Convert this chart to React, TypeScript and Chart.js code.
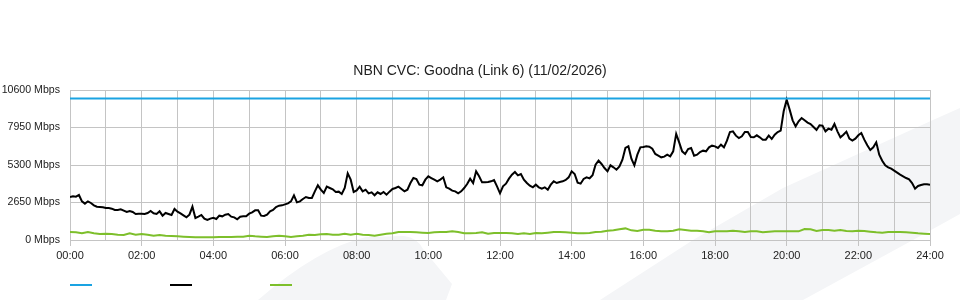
import React, { useEffect, useRef } from 'react';
import { Chart, registerables } from 'chart.js';

Chart.register(...registerables);

const TITLE = 'NBN CVC: Goodna (Link 6) (11/02/2026)';
const X_TICK_LABELS = ['00:00', '02:00', '04:00', '06:00', '08:00', '10:00', '12:00', '14:00', '16:00', '18:00', '20:00', '22:00', '24:00'];
const Y_MAX = 10600;
const Y_STEP = 2650;
const UNIT = 'Mbps';

const CAPACITY_TIMES = [0, 1440];
const CAPACITY_MBPS = [10000, 10000];

const TRAFFIC_STEP_MIN = 5;
const TRAFFIC_MBPS = [
  3039, 3086, 3062, 3180, 2733, 2568, 2733, 2615, 2450, 2356, 2332, 2309, 2261, 2261, 2214, 2120,
  2120, 2167, 2073, 1979, 2049, 1979, 1837, 1861, 1861, 1837, 1908, 2049, 1885, 1837, 2026, 1720,
  1908, 1837, 1767, 2191, 2002, 1885, 1743, 1602, 1790, 2356, 1555, 1649, 1767, 1508, 1413, 1508,
  1570, 1484, 1720, 1673, 1790, 1837, 1649, 1602, 1461, 1649, 1673, 1673, 1861, 1955, 2097, 2097,
  1720, 1696, 1790, 2026, 2120, 2332, 2426, 2450, 2521, 2591, 2733, 3157, 2662, 2733, 2897, 3039,
  2968, 2968, 3439, 3863, 3557, 3321, 3769, 3675, 3581, 3392, 3416, 3251, 3675, 4711, 4264, 3392,
  3500, 3769, 3439, 3557, 3298, 3369, 3157, 3369, 3251, 3392, 3204, 3416, 3604, 3675, 3769, 3604,
  3439, 3557, 4028, 4381, 4311, 3910, 3863, 4264, 4499, 4381, 4264, 4146, 4264, 4429, 3722, 3628,
  3486, 3439, 3298, 3439, 3675, 3957, 4334, 4028, 4853, 4499, 4075, 4075, 4099, 4146, 4240, 3793,
  3300, 3793, 3981, 4334, 4617, 4806, 4570, 4664, 4264, 4028, 3840, 3722, 3910, 3722, 3628, 3722,
  3557, 3910, 4146, 4028, 4099, 4146, 4240, 4429, 4853, 4664, 4052, 3981, 4311, 4429, 4358, 4570,
  5324, 5606, 5371, 5088, 4853, 5277, 5135, 4970, 5206, 5677, 6502, 6620, 5748, 5277, 6031, 6549,
  6572, 6620, 6596, 6454, 6078, 5960, 5842, 5889, 6031, 5913, 6266, 7500, 6900, 6266, 6078, 6431,
  6502, 5960, 6031, 6219, 6313, 6266, 6549, 6666, 6620, 6502, 6737, 6549, 7020, 7632, 7680, 7373,
  7208, 7326, 7632, 7632, 7279, 7255, 7397, 7255, 7090, 7090, 7373, 7137, 7444, 7632, 7727, 9093,
  9917, 9211, 8457, 8033, 8386, 8622, 8457, 8292, 8198, 7986, 7774, 8104, 8080, 7680, 7868, 7797,
  8198, 7680, 7255, 7444, 7656, 7161, 7020, 7161, 7397, 7562, 7090, 6690, 6360, 6549, 6900, 6031,
  5606, 5277, 5135, 5041, 4900, 4758, 4617, 4499, 4381, 4287, 4028, 3628, 3816, 3887, 3934, 3934,
  3910,
];

const UPLOAD_STEP_MIN = 10;
const UPLOAD_MBPS = [
  565, 542, 471, 565, 471, 424, 447, 424, 377, 353, 471, 377, 424, 377, 306, 353,
  306, 283, 259, 235, 212, 188, 188, 188, 200, 212, 212, 212, 235, 235, 306, 259,
  235, 212, 259, 306, 259, 212, 259, 306, 377, 353, 400, 424, 377, 377, 447, 377,
  435, 377, 353, 306, 377, 447, 471, 565, 565, 565, 542, 518, 494, 542, 565, 565,
  612, 565, 471, 471, 494, 542, 447, 494, 494, 494, 471, 424, 471, 424, 494, 471,
  518, 565, 565, 542, 518, 471, 471, 494, 565, 589, 659, 683, 760, 820, 683, 636,
  718, 730, 659, 612, 612, 659, 753, 706, 659, 659, 612, 542, 612, 612, 612, 659,
  612, 565, 612, 612, 542, 589, 612, 612, 612, 612, 612, 780, 760, 636, 706, 700,
  659, 706, 636, 612, 659, 636, 589, 542, 518, 565, 565, 565, 542, 518, 471, 447,
  424,
];

const SERIES_COLORS = ['#1aa3e2', '#000000', '#7dbf2b'];
const GRID_COLOR = '#c4c4c4';
const TEXT_COLOR = '#222222';

const watermarkPlugin = {
  id: 'watermark',
  beforeDraw(chart: any) {
    const ctx = chart.ctx;
    ctx.save();
    ctx.fillStyle = '#f4f5f7';
    ctx.beginPath();
    ctx.moveTo(258, 300);
    ctx.quadraticCurveTo(318, 248, 366, 237);
    ctx.lineTo(404, 236);
    ctx.quadraticCurveTo(418, 238, 423, 249);
    ctx.lineTo(452, 284);
    ctx.lineTo(446, 300);
    ctx.closePath();
    ctx.fill();
    ctx.beginPath();
    ctx.moveTo(600, 300);
    ctx.lineTo(693, 240);
    ctx.lineTo(783, 188);
    ctx.lineTo(933, 120);
    ctx.lineTo(960, 108);
    ctx.lineTo(960, 214);
    ctx.lineTo(913, 240);
    ctx.lineTo(803, 300);
    ctx.closePath();
    ctx.fill();
    ctx.restore();
  },
};

const lineLegendPlugin = {
  id: 'lineLegend',
  afterDraw(chart: any) {
    const ctx = chart.ctx;
    ctx.save();
    ctx.lineWidth = 2;
    chart.data.datasets.forEach((ds: any, i: number) => {
      const x0 = chart.chartArea.left + i * 100;
      ctx.strokeStyle = ds.borderColor;
      ctx.beginPath();
      ctx.moveTo(x0, 285);
      ctx.lineTo(x0 + 22, 285);
      ctx.stroke();
    });
    ctx.restore();
  },
};

export default function App() {
  const canvasRef = useRef<HTMLCanvasElement | null>(null);

  useEffect(() => {
    if (!canvasRef.current) return;
    Chart.defaults.font.family = '"Liberation Sans", Arial, Helvetica, sans-serif';
    const chart = new Chart(canvasRef.current, {
      type: 'line',
      data: {
        datasets: [
          {
            label: 'Capacity',
            data: CAPACITY_TIMES.map((t, i) => ({ x: t, y: CAPACITY_MBPS[i] })),
            borderColor: SERIES_COLORS[0],
            backgroundColor: SERIES_COLORS[0],
            borderWidth: 2,
            pointRadius: 0,
            tension: 0,
          },
          {
            label: 'Download',
            data: TRAFFIC_MBPS.map((v, i) => ({ x: i * TRAFFIC_STEP_MIN, y: v })),
            borderColor: SERIES_COLORS[1],
            backgroundColor: SERIES_COLORS[1],
            borderWidth: 2,
            pointRadius: 0,
            tension: 0,
          },
          {
            label: 'Upload',
            data: UPLOAD_MBPS.map((v, i) => ({ x: i * UPLOAD_STEP_MIN, y: v })),
            borderColor: SERIES_COLORS[2],
            backgroundColor: SERIES_COLORS[2],
            borderWidth: 2,
            pointRadius: 0,
            tension: 0,
          },
        ],
      },
      options: {
        responsive: false,
        animation: false,
        layout: { padding: 0 },
        plugins: {
          legend: { display: false },
          tooltip: { enabled: false },
          title: {
            display: true,
            text: TITLE,
            color: TEXT_COLOR,
            font: { size: 14, weight: 'normal' },
            padding: { top: 63, bottom: 10.2 },
          },
        },
        scales: {
          x: {
            type: 'linear',
            min: 0,
            max: 1440,
            afterFit: (scale: any) => {
              scale.height = 60;
            },
            ticks: {
              stepSize: 60,
              autoSkip: false,
              maxRotation: 0,
              padding: 3,
              color: TEXT_COLOR,
              font: { size: 11 },
              callback: (v: any) => (Number(v) % 120 === 0 ? X_TICK_LABELS[Number(v) / 120] : ''),
            },
            grid: {
              color: GRID_COLOR,
              lineWidth: 1,
              tickLength: 6,
              tickColor: (c: any) => (c.tick && c.tick.value % 120 === 0 ? GRID_COLOR : 'rgba(0,0,0,0)'),
            },
            border: { color: GRID_COLOR },
          },
          y: {
            min: 0,
            max: Y_MAX,
            afterFit: (scale: any) => {
              scale.width = 70;
            },
            ticks: {
              stepSize: Y_STEP,
              padding: 10,
              color: TEXT_COLOR,
              font: { size: 10.6 },
              callback: (v: any) => `${v} ${UNIT}`,
            },
            grid: { color: GRID_COLOR, lineWidth: 1, drawTicks: false },
            border: { color: GRID_COLOR },
          },
          yRight: {
            position: 'right',
            display: true,
            min: 0,
            max: Y_MAX,
            afterFit: (scale: any) => {
              scale.width = 30;
            },
            ticks: { display: false },
            grid: { display: false, drawTicks: false },
            border: { display: false },
          },
        },
      },
      plugins: [watermarkPlugin, lineLegendPlugin],
    } as any);
    return () => chart.destroy();
  }, []);

  return (
    <div style={{ position: 'absolute', left: 0, top: 0, width: 960, height: 300 }}>
      <canvas ref={canvasRef} width={960} height={300} />
    </div>
  );
}
